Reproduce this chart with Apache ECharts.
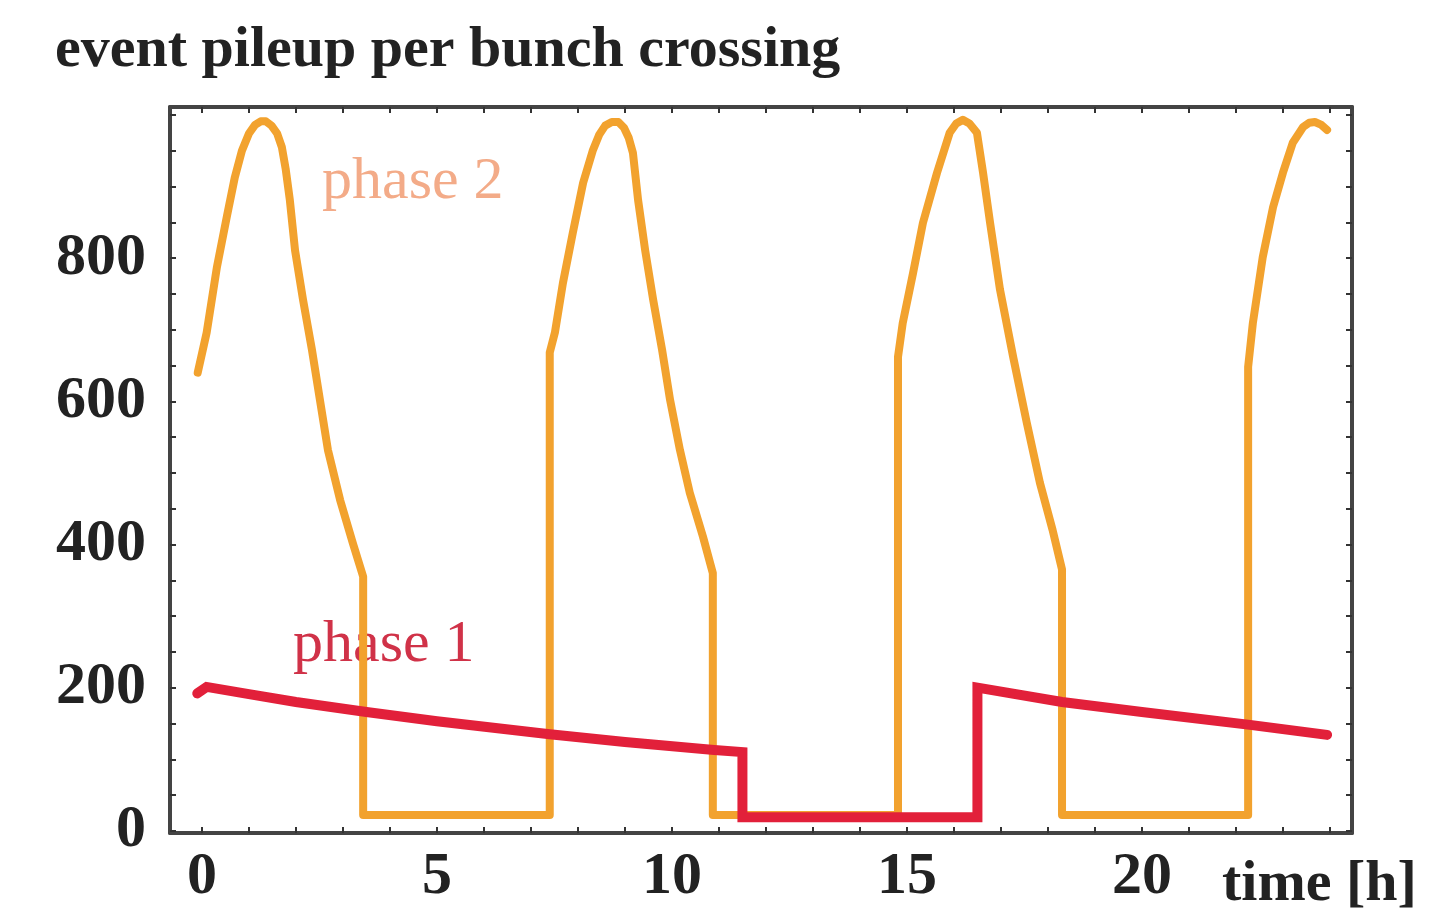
<!DOCTYPE html>
<html>
<head>
<meta charset="utf-8">
<script src="https://cdn.jsdelivr.net/npm/echarts@6/dist/echarts.min.js"></script>
<style>
	html, body { margin: 0; padding: 0; background: #fff; }
	#pileup_chart { width: 1434px; height: 916px; }
</style>
</head>
<body>
<div id="pileup_chart"></div>
<script>
// phase 2 (orange), hours / events per crossing
var phase2Hours = [
	-0.09, 0.10, 0.32, 0.53, 0.70, 0.85, 1.00, 1.13, 1.25, 1.36, 1.48, 1.60, 1.70, 1.78, 1.87, 1.98, 2.15, 2.34, 2.51, 2.68, 2.94, 3.21, 3.43,
	3.43, 7.40, 7.40,
	7.51, 7.68, 7.89, 8.11, 8.32, 8.45, 8.58, 8.72, 8.86, 8.98, 9.08, 9.17, 9.28, 9.43, 9.60, 9.79, 9.96, 10.17, 10.38, 10.66, 10.87,
	10.87, 14.81, 14.81,
	14.91, 15.13, 15.34, 15.64, 15.91, 16.05, 16.19, 16.33, 16.49, 16.62, 16.77, 16.98, 17.26, 17.55, 17.83, 18.10, 18.30,
	18.30, 22.26, 22.26,
	22.36, 22.57, 22.79, 23.00, 23.21, 23.43, 23.56, 23.68, 23.82, 23.94
];
var phase2Pileup = [
	640, 696, 788, 858, 913, 950, 974, 986, 991, 991, 985, 974, 955, 925, 881, 811, 742, 672, 602, 532, 462, 402, 355,
	22, 22, 668,
	696, 765, 835, 905, 951, 972, 985, 990, 990, 982, 968, 947, 881, 811, 742, 672, 602, 532, 472, 411, 360,
	22, 22, 662,
	709, 779, 849, 919, 975, 988, 993, 988, 975, 919, 849, 756, 662, 570, 486, 420, 365,
	22, 22, 648,
	709, 801, 871, 919, 961, 983, 989, 990, 986, 979
];

// phase 1 (red)
var phase1Hours = [-0.10, 0.10, 1.00, 2.00, 3.50, 5.00, 7.40, 9.00, 10.90, 11.50, 11.50, 16.50, 16.50, 18.30, 20.00, 22.30, 23.94];
var phase1Pileup = [192, 201, 191, 180, 166, 153, 135, 124, 113, 110, 19, 19, 200, 180, 166, 148, 134];

var xLabels = [0, 5, 10, 15, 20];
var xTicks = [0, 1, 2, 3, 4, 5, 6, 7, 8, 9, 10, 11, 12, 13, 14, 15, 16, 17, 18, 19, 20, 21, 22, 23, 24];
var yLabels = [0, 200, 400, 600, 800];
var yTicks = [0, 50, 100, 150, 200, 250, 300, 350, 400, 450, 500, 550, 600, 650, 700, 750, 800, 850, 900, 950, 1000];

function pairs(xs, ys) {
	return xs.map(function (x, i) {
		return [x, ys[i]];
	});
}

var serif = '"Liberation Serif", "DejaVu Serif", serif';
var frame = {show: true, onZero: false, lineStyle: {color: '#444', width: 4}};

function xAxisFor(pos, labels) {
	return {
		type: 'value',
		position: pos,
		min: -0.68,
		max: 24.47,
		axisLine: frame,
		splitLine: {show: false},
		axisTick: {show: true, inside: true, length: 6, customValues: xTicks, lineStyle: {color: '#333', width: 2}},
		axisLabel: {
			show: labels,
			customValues: xLabels,
			margin: 14,
			fontFamily: serif,
			fontSize: 60,
			fontWeight: 'bold',
			color: '#222'
		}
	};
}

function yAxisFor(pos, labels) {
	return {
		type: 'value',
		position: pos,
		min: -3,
		max: 1011,
		axisLine: frame,
		splitLine: {show: false},
		axisTick: {show: true, inside: true, length: 6, customValues: yTicks, lineStyle: {color: '#333', width: 2}},
		axisLabel: {
			show: labels,
			customValues: yLabels,
			margin: 24,
			fontFamily: serif,
			fontSize: 60,
			fontWeight: 'bold',
			color: '#222'
		}
	};
}

var chart = echarts.init(document.getElementById('pileup_chart'));
chart.setOption({
	backgroundColor: '#fff',
	animation: false,
	title: {
		text: 'event pileup per bunch crossing',
		left: 50,
		top: 17,
		textStyle: {fontFamily: serif, fontSize: 58, fontWeight: 'bold', color: '#222'}
	},
	grid: {left: 170, right: 82, top: 107, bottom: 83, containLabel: false},
	xAxis: [xAxisFor('bottom', true), xAxisFor('top', false)],
	yAxis: [yAxisFor('left', true), yAxisFor('right', false)],
	graphic: [{
		type: 'text',
		left: 322,
		top: 152,
		z: 0,
		style: {text: 'phase 2', font: '60px ' + serif, fill: '#f3ab88'}
	}, {
		type: 'text',
		left: 293,
		top: 615,
		z: 0,
		style: {text: 'phase 1', font: '60px ' + serif, fill: '#d03248'}
	}, {
		type: 'text',
		left: 1222,
		top: 856,
		style: {text: 'time [h]', font: 'bold 58px ' + serif, fill: '#222'}
	}],
	series: [{
		name: 'phase 2',
		type: 'line',
		xAxisIndex: 0,
		yAxisIndex: 0,
		showSymbol: false,
		symbol: 'none',
		z: 3,
		lineStyle: {color: '#f2a22e', width: 8, join: 'round', cap: 'round'},
		data: pairs(phase2Hours, phase2Pileup)
	}, {
		name: 'phase 1',
		type: 'line',
		xAxisIndex: 0,
		yAxisIndex: 0,
		showSymbol: false,
		symbol: 'none',
		z: 4,
		lineStyle: {color: '#e2203a', width: 10, join: 'miter', cap: 'round'},
		data: pairs(phase1Hours, phase1Pileup)
	}]
});
</script>
</body>
</html>
